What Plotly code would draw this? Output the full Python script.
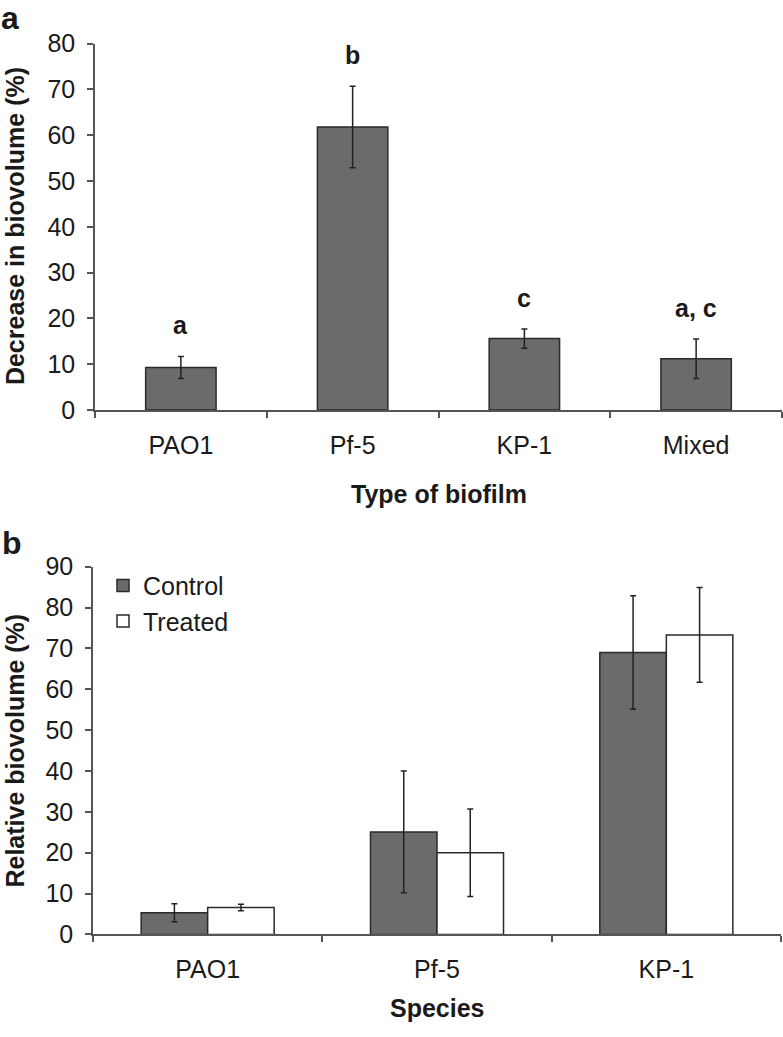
import plotly.graph_objects as go

W, H = 783, 1037

# Panel a data
biofilm_types = ["PAO1", "Pf-5", "KP-1", "Mixed"]
decrease = [9.3, 61.8, 15.6, 11.2]
decrease_err = [2.4, 8.9, 2.1, 4.3]
sig_labels = ["a", "b", "c", "a, c"]

# Panel b data
species = ["PAO1", "Pf-5", "KP-1"]
control = [5.3, 25.1, 69.0]
control_err = [2.2, 14.9, 13.9]
treated = [6.6, 20.0, 73.3]
treated_err = [0.8, 10.7, 11.6]

FONT = "Liberation Sans, Arial, sans-serif"
TXT = "#1a1a1a"
AX = "#555555"
BAR_DARK = "#6b6b6b"
EDGE = "#2a2a2a"
ERR = "#222222"


def px_x(p):
    return p / W


def px_y(p):
    return 1 - p / H


fig = go.Figure()

fig.add_trace(go.Bar(
    x=biofilm_types, y=decrease, width=0.41,
    marker=dict(color=BAR_DARK, line=dict(color=EDGE, width=1.5)),
    error_y=dict(type="data", array=decrease_err, color=ERR, thickness=1.5, width=3),
    showlegend=False, xaxis="x", yaxis="y",
))

fig.add_trace(go.Bar(
    x=species, y=control, name="Control",
    marker=dict(color=BAR_DARK, line=dict(color=EDGE, width=1.5)),
    error_y=dict(type="data", array=control_err, color=ERR, thickness=1.5, width=3),
    xaxis="x2", yaxis="y2",
))
fig.add_trace(go.Bar(
    x=species, y=treated, name="Treated",
    marker=dict(color="#ffffff", line=dict(color=EDGE, width=1.5)),
    error_y=dict(type="data", array=treated_err, color=ERR, thickness=1.5, width=3),
    xaxis="x2", yaxis="y2",
))

axis_common = dict(
    showline=True, linecolor=AX, linewidth=1.5, ticks="outside",
    tickcolor=AX, tickwidth=1.5, ticklen=6, showgrid=False, zeroline=False,
    tickfont=dict(family=FONT, size=25, color=TXT),
)

fig.update_layout(
    width=W, height=H,
    margin=dict(l=0, r=0, t=0, b=0),
    paper_bgcolor="white", plot_bgcolor="white",
    barmode="group", bargap=0.42, bargroupgap=0,
    font=dict(family=FONT, color=TXT),
    xaxis=dict(domain=[px_x(95), px_x(782)], anchor="y", type="category",
               range=[-0.5, 3.5], tickson="boundaries", ticklabelstandoff=12,
               **axis_common),
    yaxis=dict(domain=[px_y(407), px_y(30.5)], anchor="x", range=[0, 80],
               dtick=10, ticklabelstandoff=7, **axis_common),
    xaxis2=dict(domain=[px_x(93), px_x(781)], anchor="y2", type="category",
                range=[-0.5, 2.5], tickson="boundaries", ticklabelstandoff=12,
                **axis_common),
    yaxis2=dict(domain=[px_y(946), px_y(568)], anchor="x2", range=[0, 90],
                dtick=10, ticklabelstandoff=7, **axis_common),
    legend=dict(x=px_x(103), y=px_y(564), xanchor="left", yanchor="top",
                font=dict(family=FONT, size=25, color=TXT),
                bgcolor="rgba(0,0,0,0)", itemwidth=30, tracegroupgap=0),
)

# significance letters above the error bars
for cat, v, e, lab in zip(biofilm_types, decrease, decrease_err, sig_labels):
    fig.add_annotation(x=cat, y=v + e, xref="x", yref="y", text="<b>%s</b>" % lab,
                       showarrow=False, yanchor="bottom", yshift=15,
                       font=dict(family=FONT, size=25, color=TXT))


def title(text, x, y, angle=0, size=25):
    fig.add_annotation(x=px_x(x), y=px_y(y), xref="paper", yref="paper",
                       text="<b>%s</b>" % text, showarrow=False, textangle=angle,
                       xanchor="center", yanchor="middle",
                       font=dict(family=FONT, size=size, color=TXT))


title("Decrease in biovolume (%)", 15, 218, -90)
title("Type of biofilm", 439, 493)
title("Relative biovolume (%)", 15, 757, -90)
title("Species", 437, 1022)
title("a", 10, 4, size=32)
title("b", 12, 544, size=32)

fig.write_html("out.html", config={"displayModeBar": False},
               post_script="document.body.style.margin='0px';")
